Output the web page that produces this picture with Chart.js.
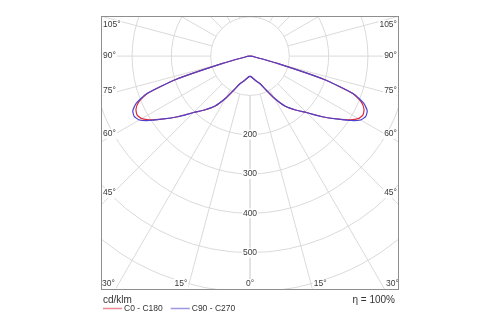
<!DOCTYPE html>
<html>
<head>
<meta charset="utf-8">
<script src="https://cdn.jsdelivr.net/npm/chart.js@4.4.1/dist/chart.umd.min.js"></script>
<style>
  html, body { margin: 0; padding: 0; background: #fff; }
  #wrap { width: 500px; height: 325px; }
</style>
</head>
<body>
<div id="wrap"><canvas id="polar" width="500" height="325"></canvas></div>
<script>
// gamma angles (0 = straight down) and luminous intensity in cd/klm
const gammaAngles = [0, 5, 10, 15, 20, 25, 30, 35, 40, 45, 50, 55, 57.5, 60, 62.5, 65, 67.5, 70, 72.5, 75, 80, 85, 90];
const c0c180 = [51, 54, 60, 67, 75, 94, 124, 156, 179, 203, 240, 281, 302, 318, 324, 320, 307, 278, 198, 72, 10, 2, 0];
const c90c270 = [51, 54, 60, 67, 75, 93, 123, 155, 178, 203, 240, 281, 305, 325, 332, 329, 313, 280, 198, 72, 10, 2, 0];

const ringValues = [100, 200, 300, 400, 500, 600, 700];
const ringLabels = [200, 300, 400, 500];
const spokeAngles = [0, 15, 30, 45, 60, 75, 90, 105, 120, 135, 150, 165, 180];
const sideLabels = [45, 60, 75, 90, 105];
const bottomLabels = [-30, -15, 0, 15, 30];

const legendItems = ['C0 - C180', 'C90 - C270'];
const unitText = 'cd/klm';
const etaText = 'η = 100%';

const RED = 'rgb(218, 42, 62)';
const BLUE = 'rgb(78, 66, 204)';
const FONT = "'Liberation Sans Narrow', 'Liberation Sans', Arial, sans-serif";

// one half of a curve: side = -1 draws to the left, +1 to the right
function half(values, side) {
  return gammaAngles.map((g, i) => {
    const rad = g * Math.PI / 180;
    return { x: side * values[i] * Math.sin(rad), y: -values[i] * Math.cos(rad) };
  });
}

function lineSet(label, values, side, color, order) {
  return {
    label,
    data: half(values, side),
    showLine: true,
    borderColor: color,
    borderWidth: 1.2,
    pointRadius: 0,
    tension: 0.18,
    fill: false,
    order
  };
}

const gridPlugin = {
  id: 'photoGrid',
  beforeDatasetsDraw(chart) {
    const { ctx, chartArea: a, scales: { x, y } } = chart;
    const cx = x.getPixelForValue(0);
    const cy = y.getPixelForValue(0);
    const unit = x.getPixelForValue(100) - cx;

    ctx.save();
    ctx.beginPath();
    ctx.rect(a.left, a.top, a.right - a.left, a.bottom - a.top);
    ctx.clip();
    ctx.strokeStyle = '#dadada';
    ctx.lineWidth = 1;

    ringValues.forEach(v => {
      ctx.beginPath();
      ctx.arc(cx, cy, v / 100 * unit, 0, Math.PI * 2);
      ctx.stroke();
    });

    const r0 = unit;
    const r1 = 1000;
    spokeAngles.forEach(g => {
      const rad = g * Math.PI / 180;
      [-1, 1].forEach(s => {
        const dx = s * Math.sin(rad), dy = Math.cos(rad);
        ctx.beginPath();
        ctx.moveTo(cx + dx * r0, cy + dy * r0);
        ctx.lineTo(cx + dx * r1, cy + dy * r1);
        ctx.stroke();
      });
    });
    ctx.restore();

    ctx.save();
    ctx.font = '8.5px ' + FONT;
    ctx.textBaseline = 'middle';

    const tag = (text, tx, ty, align) => {
      const w = ctx.measureText(text).width;
      let left = tx;
      if (align === 'center') left = tx - w / 2;
      if (align === 'right') left = tx - w;
      ctx.fillStyle = '#fff';
      ctx.fillRect(left - 1, ty - 5, w + 2, 10);
      ctx.fillStyle = '#3a3a3a';
      ctx.textAlign = align;
      ctx.fillText(text, tx, ty);
    };

    ringLabels.forEach(v => tag(String(v), cx, cy + v / 100 * unit, 'center'));

    // side angle labels sit on their spoke near the frame
    sideLabels.forEach(g => {
      const rad = g * Math.PI / 180;
      const reach = cx - (a.left + 9);
      let ty = cy + reach / Math.tan(rad) - (g < 90 ? 3 : 0);
      ty = Math.max(ty, a.top + 9);
      tag(g + '°', a.left + 2, ty, 'left');
      tag(g + '°', a.right - 2, ty, 'right');
    });

    // bottom angle labels next to where the spoke meets the frame
    bottomLabels.forEach(g => {
      const rad = g * Math.PI / 180;
      const bx = cx + (a.bottom - cy) * Math.tan(rad);
      const ty = a.bottom - 6;
      const text = Math.abs(g) + '°';
      if (g < 0) tag(text, bx, ty, 'right');
      else if (g > 0) tag(text, bx + 1, ty, 'left');
      else tag(text, bx, ty, 'center');
    });
    ctx.restore();
  },
  afterDraw(chart) {
    const { ctx, chartArea: a } = chart;
    ctx.save();
    ctx.strokeStyle = '#8e8e8e';
    ctx.lineWidth = 1;
    ctx.strokeRect(a.left + 0.5, a.top + 0.5, a.right - a.left - 1, a.bottom - a.top - 1);

    ctx.fillStyle = '#333';
    ctx.textBaseline = 'middle';
    ctx.font = '10px ' + FONT;
    ctx.textAlign = 'left';
    ctx.fillText(unitText, a.left + 2, a.bottom + 10);
    ctx.textAlign = 'right';
    ctx.fillText(etaText, a.right - 4, a.bottom + 10);

    ctx.font = '8.5px ' + FONT;
    ctx.textAlign = 'left';
    let lx = a.left + 2;
    const ly = a.bottom + 18.5;
    [RED, BLUE].forEach((col, i) => {
      ctx.strokeStyle = col;
      ctx.globalAlpha = 0.55;
      ctx.lineWidth = 1.5;
      ctx.beginPath();
      ctx.moveTo(lx, ly);
      ctx.lineTo(lx + 19, ly);
      ctx.stroke();
      ctx.globalAlpha = 1;
      ctx.fillStyle = '#333';
      ctx.fillText(legendItems[i], lx + 21, ly);
      lx += 21 + ctx.measureText(legendItems[i]).width + 8;
    });
    ctx.restore();
  }
};

new Chart(document.getElementById('polar'), {
  type: 'scatter',
  data: {
    datasets: [
      lineSet('C0', c0c180, 1, RED, 2),
      lineSet('C180', c0c180, -1, RED, 2),
      lineSet('C90', c90c270, 1, BLUE, 1),
      lineSet('C270', c90c270, -1, BLUE, 1)
    ]
  },
  options: {
    responsive: false,
    animation: false,
    layout: { padding: { left: 101, right: 101, top: 16, bottom: 35 } },
    scales: {
      x: { type: 'linear', min: -379, max: 379, display: false },
      y: { type: 'linear', min: -595, max: 102, display: false }
    },
    plugins: { legend: { display: false }, tooltip: { enabled: false } }
  },
  plugins: [gridPlugin]
});
</script>
</body>
</html>
